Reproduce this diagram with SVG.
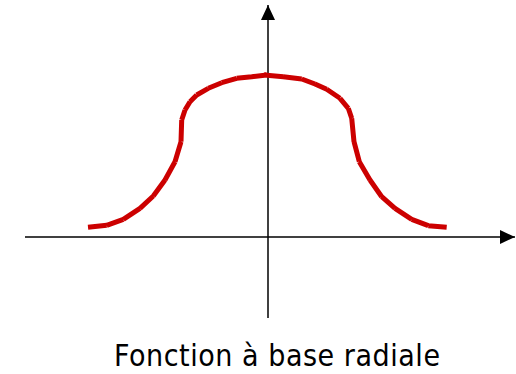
<svg xmlns="http://www.w3.org/2000/svg" width="516" height="374" viewBox="0 0 516 374">
<style>
.axis{stroke:#000;stroke-width:1.5;fill:none}
.curve{stroke:#cc0000;stroke-width:5;fill:none;stroke-linecap:butt}
.label{font-family:"DejaVu Sans Condensed","DejaVu Sans","Liberation Sans",sans-serif;font-stretch:condensed;font-size:30px;fill:#000}
</style>
<defs>
<marker id="arrow" markerUnits="userSpaceOnUse" markerWidth="16" markerHeight="14" refX="15" refY="7" orient="auto">
<path d="M0,0 L15,7 L0,14 Z" fill="#000"/>
</marker>
</defs>
<rect width="516" height="374" fill="#fff"/>
<g id="connectors">
<line id="x-axis" class="axis" x1="25" y1="237" x2="515" y2="237" marker-end="url(#arrow)"/>
<line id="y-axis" class="axis" x1="268" y1="318" x2="268" y2="5" marker-end="url(#arrow)"/>
</g>
<g id="rbf-curve">
<path class="curve" d="M88,227.3 L106.7,225.3 M106.7,225.3 L123.3,219.3 M123.3,219.3 L140,208.3 M140,208.3 L153.3,196 M153.3,196 L165,180 M165,180 L175,161.7 M175,161.7 L181,141.7 M181,141.7 L181.7,120 M181.7,120 L185,110 M185,110 L190,101.7 M190,101.7 L196.7,95 M196.7,95 L208.3,88.3 M208.3,88.3 L221.7,82.7 M221.7,82.7 L236.7,78.3 M236.7,78.3 L251.7,76.7 M251.7,76.7 L266.7,75 M264,75 L283.3,76.7 M283.3,76.7 L301.7,79 M301.7,79 L315,84 M315,84 L326.7,89.3 M326.7,89.3 L340,98.3 M340,98.3 L348.3,108.3 M348.3,108.3 L351.7,118.3 M351.7,118.3 L354,141.7 M354,141.7 L359.3,161.7 M359.3,161.7 L370,180 M370,180 L381.7,196.7 M381.7,196.7 L395,208.3 M395,208.3 L411.7,219.3 M411.7,219.3 L428.3,225.7 M428.3,225.7 L446.7,227.3"/>
</g>
<g id="title">
<text class="label" x="114" y="366" textLength="326" lengthAdjust="spacing">Fonction à base radiale</text>
</g>
</svg>
